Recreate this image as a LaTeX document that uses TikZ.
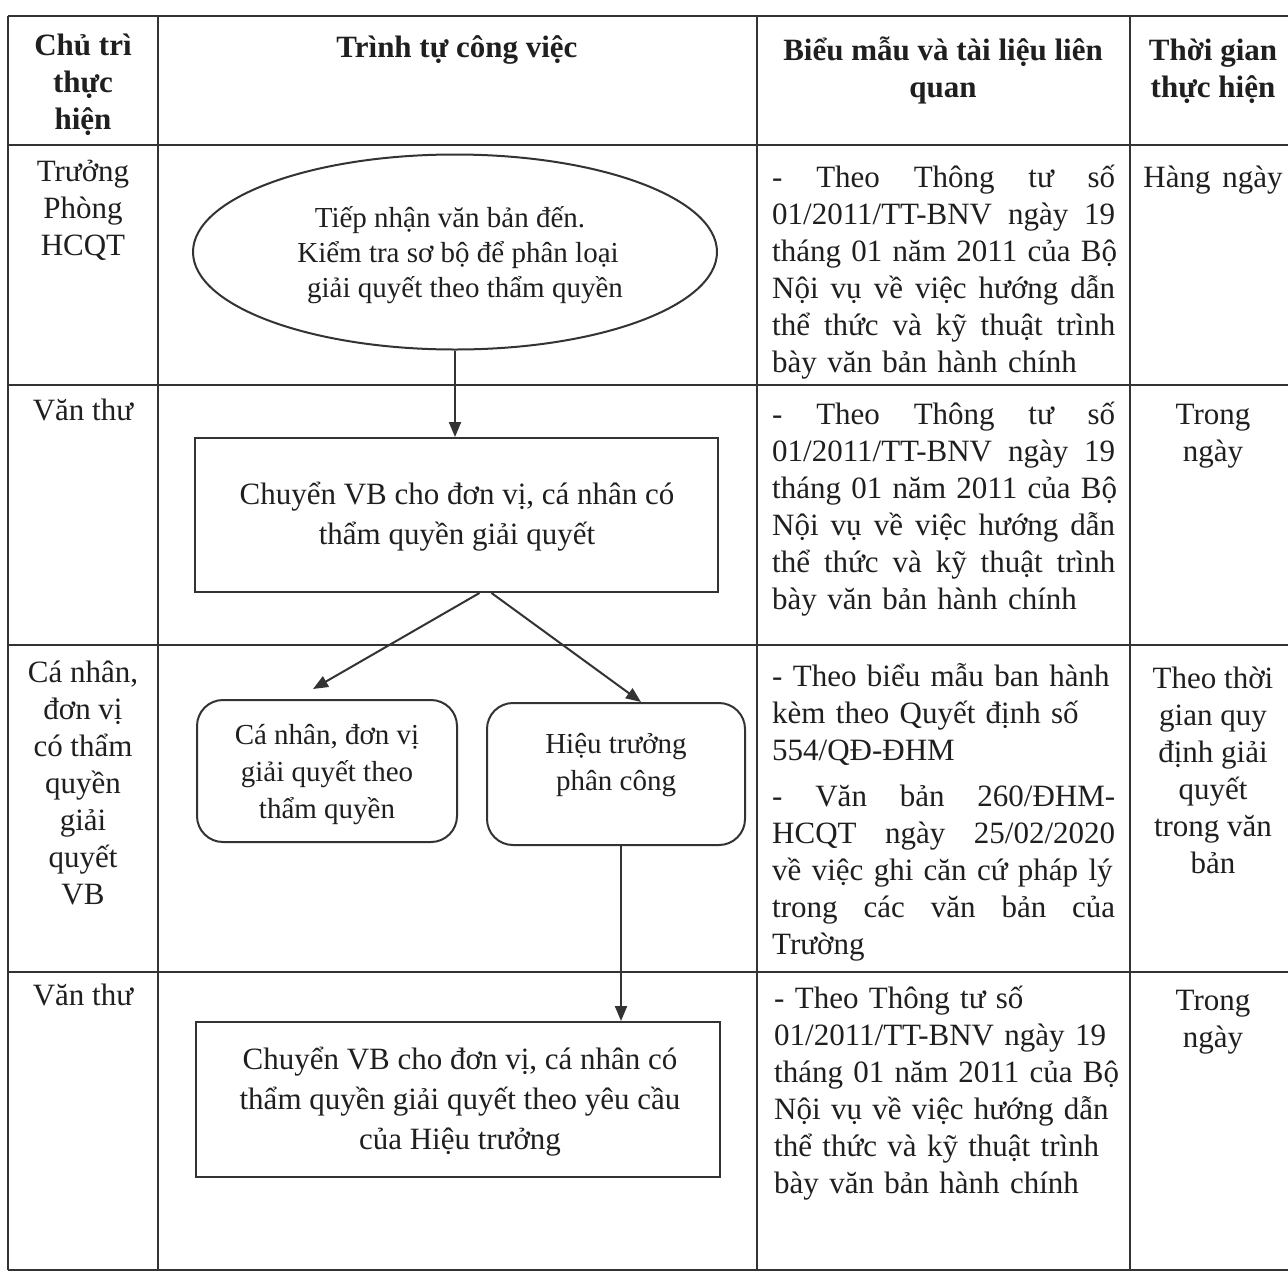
\documentclass[tikz,border=0pt]{standalone}
\usepackage{fontspec}
\setmainfont{Liberation Serif}
\usetikzlibrary{arrows.meta,shapes.geometric,calc}
\newcommand\J[1]{\leavevmode\hbox to 343pt{#1}}
\newcommand\hf{\hspace{0pt plus 1fill}\ }
\begin{document}
\begin{tikzpicture}[x=1pt,y=-1pt,
  tbl/.style={line width=1.6pt, draw=black!80},
  flow/.style={draw=black!80, line width=2pt},
  arr/.style={flow, -{Triangle[length=15pt,width=12pt]}},
  txt/.style={font=\fontsize{31}{37}\selectfont, inner sep=0pt, text=black!88},
  hd/.style={txt, font=\fontsize{31}{37}\selectfont\bfseries},
  ctxt/.style={txt, align=center, anchor=north},
  ltxt/.style={txt, align=left, anchor=north west, text width=343pt},
  shtxt/.style={font=\fontsize{29}{37}\selectfont, text=black!88, align=center, inner sep=0pt}
]
\useasboundingbox (0,0) rectangle (1288,1272);
\fill[white] (0,0) rectangle (1288,1272);

% table grid
\draw[tbl] (8,16) -- (1288,16);
\draw[tbl] (8,145) -- (1288,145);
\draw[tbl] (8,385) -- (1288,385);
\draw[tbl] (8,645) -- (1288,645);
\draw[tbl] (8,972) -- (1288,972);
\draw[tbl] (8,1270) -- (1288,1270);
\draw[tbl] (8,16) -- (8,1270);
\draw[tbl] (158,16) -- (158,1270);
\draw[tbl] (757,16) -- (757,1270);
\draw[tbl] (1130,16) -- (1130,1270);

% headers
\node[hd, align=center, anchor=north] (h1) at (83,29) {\strut Chủ trì\\thực\\hiện};
\node[hd, align=center, anchor=north] (h2) at (457,31) {\strut Trình tự công việc};
\node[hd, align=center, anchor=north] (h3) at (943,34) {\strut Biểu mẫu và tài liệu liên\\quan};
\node[hd, align=center, anchor=north] (h4) at (1213,34) {\strut Thời gian\\thực hiện};

% column 1
\node[ctxt] (a1) at (83,155) {\strut Trưởng\\Phòng\\HCQT};
\node[ctxt] (a2) at (83,394) {\strut Văn thư};
\node[ctxt] (a3) at (83,656) {\strut Cá nhân,\\đơn vị\\có thẩm\\quyền\\giải\\quyết\\VB};
\node[ctxt] (a4) at (83,979) {\strut Văn thư};

% column 3
\node[ltxt] (c1) at (772,161) {\strut\J{-\hf Theo\hf Thông\hf tư\hf số}\\\J{01/2011/TT-BNV\hf ngày\hf 19}\\\J{tháng\hf 01\hf năm\hf 2011\hf của\hf Bộ}\\\J{Nội\hf vụ\hf về\hf việc\hf hướng\hf dẫn}\\\J{thể\hf thức\hf và\hf kỹ\hf thuật\hf trình}\\bày văn bản hành chính};
\node[ltxt] (c2) at (772,398) {\strut\J{-\hf Theo\hf Thông\hf tư\hf số}\\\J{01/2011/TT-BNV\hf ngày\hf 19}\\\J{tháng\hf 01\hf năm\hf 2011\hf của\hf Bộ}\\\J{Nội\hf vụ\hf về\hf việc\hf hướng\hf dẫn}\\\J{thể\hf thức\hf và\hf kỹ\hf thuật\hf trình}\\bày văn bản hành chính};
\node[ltxt] (c3) at (772,660) {\strut - Theo biểu mẫu ban hành\\kèm theo Quyết định số\\554/QĐ-ĐHM\\[9pt]\J{-\hf Văn\hf bản\hf 260/ĐHM-}\\\J{HCQT\hf ngày\hf 25/02/2020}\\về việc ghi căn cứ pháp lý\\\J{trong\hf các\hf văn\hf bản\hf của}\\Trường};
\node[ltxt, text width=370pt] (c4) at (774,982) {\strut - Theo Thông tư số\\01/2011/TT-BNV ngày 19\\tháng 01 năm 2011 của Bộ\\Nội vụ về việc hướng dẫn\\thể thức và kỹ thuật trình\\bày văn bản hành chính};

% column 4
\node[ctxt] (d1) at (1213,161) {\strut Hàng\hspace{4pt} ngày};
\node[ctxt] (d2) at (1213,398) {\strut Trong\\ngày};
\node[ctxt] (d3) at (1213,662) {\strut Theo thời\\gian quy\\định giải\\quyết\\trong văn\\bản};
\node[ctxt] (d4) at (1213,984) {\strut Trong\\ngày};

% flowchart
\node[flow, ellipse, minimum width=524pt, minimum height=195pt, inner sep=0pt] (ell) at (455,252) {};
\node[shtxt, font=\fontsize{29}{35}\selectfont] (ellt) at (458,255) {Tiếp nhận văn bản đến.\hspace*{16pt}\\Kiểm tra sơ bộ để phân loại\\\hspace*{14pt}giải quyết theo thẩm quyền};
\node[flow, rectangle, minimum width=523pt, minimum height=154pt, inner sep=0pt] (r1) at (456.5,515) {};
\node[shtxt, font=\fontsize{31}{40}\selectfont] (r1t) at (457,517) {Chuyển VB cho đơn vị, cá nhân có\\thẩm quyền giải quyết};
\node[flow, rectangle, rounded corners=26pt, minimum width=260pt, minimum height=142pt, inner sep=0pt] (bA) at (327,771) {};
\node[shtxt] (bAt) at (327,775) {Cá nhân, đơn vị\\giải quyết theo\\thẩm quyền};
\node[flow, rectangle, rounded corners=26pt, minimum width=258pt, minimum height=142pt, inner sep=0pt] (bB) at (616,774) {};
\node[shtxt] (bBt) at (616,765) {Hiệu trưởng\\phân công};
\node[flow, rectangle, minimum width=524pt, minimum height=155pt, inner sep=0pt] (r2) at (458,1099.5) {};
\node[shtxt, font=\fontsize{31}{40}\selectfont] (r2t) at (460,1102) {Chuyển VB cho đơn vị, cá nhân có\\thẩm quyền giải quyết theo yêu cầu\\của Hiệu trưởng};

% connectors
\coordinate (apexL) at ($(r1.south)+(23,0)$);
\coordinate (apexR) at ($(r1.south)+(35,0)$);
\coordinate (tipL) at ($(bA.north)+(-14,-10)$);
\coordinate (tipR) at ($(bB.north)+(25,0)$);
\coordinate (bBs) at ($(bB.south)+(5,0)$);
\draw[arr] (ell.south) -- (ell.south |- r1.north);
\draw[arr] (apexL) -- (tipL);
\draw[arr] (apexR) -- (tipR);
\draw[arr] (bBs) -- (bBs |- r2.north);
\end{tikzpicture}
\end{document}
